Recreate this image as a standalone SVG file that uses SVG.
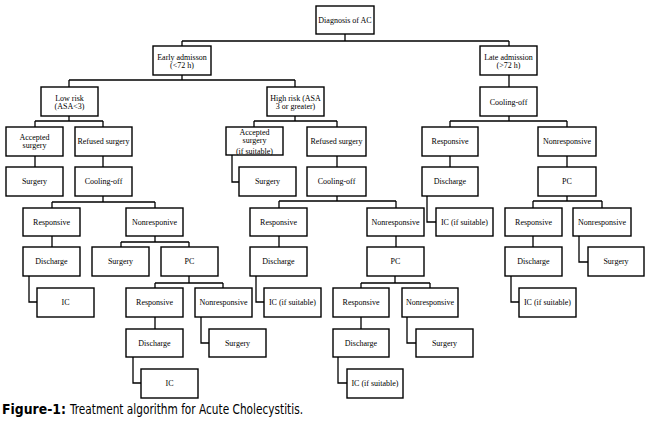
<svg xmlns="http://www.w3.org/2000/svg" width="650" height="427" viewBox="0 0 650 427">
<style>
.b{fill:#fff;stroke:#000;stroke-width:1.4}
.t{font-family:"Liberation Serif","Times New Roman",serif;font-size:8px;text-anchor:middle;fill:#000}
.c{fill:none;stroke:#000;stroke-width:1.3}
.cap{font-family:"Liberation Sans Narrow","DejaVu Sans Condensed","Liberation Sans",sans-serif;font-size:14px;fill:#000}
</style>
<rect width="650" height="427" fill="#fff"/>
<g id="connectors" class="c">
<path d="M345,34V41M182,41H509M182,41V46M509,41V46"/>
<path d="M182,75V80M69,80H295M69,80V87M295,80V87"/>
<path d="M509,75V87"/>
<path d="M509,116V121M450,121H567M450,121V127M567,121V127"/>
<path d="M69,116V121M35,121H103M35,121V127M103,121V127"/>
<path d="M295,116V121M254,121H337M254,121V127M337,121V127"/>
<path d="M35,156V167M103,156V167M232,155V182H239M337,156V167M450,156V167M567,156V167"/>
<path d="M103,196V202M52,202H155M52,202V208M155,202V208"/>
<path d="M337,196V201M279,201H396M279,201V208M396,201V208"/>
<path d="M427,196V222H436"/>
<path d="M567,196V201M533,201H602M533,201V208M602,201V208"/>
<path d="M52,236V247M279,236V247M396,236V247M533,236V247M579,236V262H588"/>
<path d="M155,236V242M121,242H189M121,242V247M189,242V247"/>
<path d="M29,276V302H37M256,276V302H264M511,276V302H519"/>
<path d="M189,276V283M155,283H223M155,283V288M223,283V288"/>
<path d="M395,276V283M361,283H430M361,283V288M430,283V288"/>
<path d="M155,317V329M201,317V343H209M361,317V329M407,317V343H416"/>
<path d="M133,357V383H141M338,357V383H347"/>
</g>
<g id="n_diag"><rect class="b" x="316" y="6" width="58" height="28"/><text class="t" x="345" y="23">Diagnosis of AC</text></g>
<g id="n_early"><rect class="b" x="153" y="46" width="58" height="29"/><text class="t" x="182" y="59.5">Early admisson</text><text class="t" x="182" y="67.5">(&lt;72 h)</text></g>
<g id="n_late"><rect class="b" x="480" y="46" width="57" height="29"/><text class="t" x="508.5" y="59.5">Late admission</text><text class="t" x="508.5" y="67.5">(&gt;72 h)</text></g>
<g id="n_low"><rect class="b" x="41" y="87" width="57" height="29"/><text class="t" x="69.5" y="100.5">Low risk</text><text class="t" x="69.5" y="108.5">(ASA&lt;3)</text></g>
<g id="n_high"><rect class="b" x="267" y="87" width="57" height="29"/><text class="t" x="295.5" y="100.5">High risk (ASA</text><text class="t" x="295.5" y="108.5">3 or greater)</text></g>
<g id="n_cool_late"><rect class="b" x="480" y="87" width="57" height="29"/><text class="t" x="508.5" y="104.5">Cooling-off</text></g>
<g id="n_acc_low"><rect class="b" x="6" y="127" width="57" height="29"/><text class="t" x="34.5" y="140">Accepted</text><text class="t" x="34.5" y="148">surgery</text></g>
<g id="n_ref_low"><rect class="b" x="75" y="127" width="57" height="29"/><text class="t" x="103.5" y="144">Refused surgery</text></g>
<g id="n_acc_high"><rect class="b" x="226" y="127" width="57" height="28"/><text class="t" x="254.5" y="134.5">Accepted</text><text class="t" x="254.5" y="142.5">surgery</text><text class="t" x="254.5" y="153.5">(if suitable)</text></g>
<g id="n_ref_high"><rect class="b" x="307" y="127" width="59" height="29"/><text class="t" x="336.5" y="144">Refused surgery</text></g>
<g id="n_resp_late"><rect class="b" x="422" y="127" width="56" height="29"/><text class="t" x="450" y="144">Responsive</text></g>
<g id="n_nonresp_late"><rect class="b" x="538" y="127" width="58" height="29"/><text class="t" x="567" y="144">Nonresponsive</text></g>
<g id="n_surg_low"><rect class="b" x="6" y="167" width="57" height="29"/><text class="t" x="34.5" y="184">Surgery</text></g>
<g id="n_cool_low"><rect class="b" x="75" y="167" width="57" height="29"/><text class="t" x="103.5" y="184">Cooling-off</text></g>
<g id="n_surg_high"><rect class="b" x="239" y="167" width="57" height="29"/><text class="t" x="267.5" y="184">Surgery</text></g>
<g id="n_cool_high"><rect class="b" x="307" y="167" width="59" height="29"/><text class="t" x="336.5" y="184">Cooling-off</text></g>
<g id="n_dis_late"><rect class="b" x="422" y="167" width="56" height="29"/><text class="t" x="450" y="184">Discharge</text></g>
<g id="n_pc_late"><rect class="b" x="538" y="167" width="58" height="29"/><text class="t" x="567" y="184">PC</text></g>
<g id="n_resp_low"><rect class="b" x="23" y="208" width="57" height="28"/><text class="t" x="51.5" y="225">Responsive</text></g>
<g id="n_nonresp_low"><rect class="b" x="126" y="208" width="57" height="28"/><text class="t" x="154.5" y="225">Nonresponive</text></g>
<g id="n_resp_high"><rect class="b" x="250" y="208" width="57" height="28"/><text class="t" x="278.5" y="225">Responsive</text></g>
<g id="n_nonresp_high"><rect class="b" x="367" y="208" width="57" height="28"/><text class="t" x="395.5" y="225">Nonresponsive</text></g>
<g id="n_ic_late"><rect class="b" x="436" y="208" width="57" height="28"/><text class="t" x="464.5" y="225">IC (if suitable)</text></g>
<g id="n_resp_late2"><rect class="b" x="505" y="208" width="57" height="28"/><text class="t" x="533.5" y="225">Responsive</text></g>
<g id="n_nonresp_late2"><rect class="b" x="573" y="208" width="58" height="28"/><text class="t" x="602" y="225">Nonresponsive</text></g>
<g id="n_dis_low"><rect class="b" x="23" y="247" width="57" height="29"/><text class="t" x="51.5" y="264">Discharge</text></g>
<g id="n_surg_low2"><rect class="b" x="92" y="247" width="57" height="29"/><text class="t" x="120.5" y="264">Surgery</text></g>
<g id="n_pc_low"><rect class="b" x="161" y="247" width="57" height="29"/><text class="t" x="189.5" y="264">PC</text></g>
<g id="n_dis_high"><rect class="b" x="250" y="247" width="57" height="29"/><text class="t" x="278.5" y="264">Discharge</text></g>
<g id="n_pc_high"><rect class="b" x="367" y="247" width="57" height="29"/><text class="t" x="395.5" y="264">PC</text></g>
<g id="n_dis_late2"><rect class="b" x="505" y="247" width="57" height="29"/><text class="t" x="533.5" y="264">Discharge</text></g>
<g id="n_surg_late2"><rect class="b" x="588" y="247" width="56" height="29"/><text class="t" x="616" y="264">Surgery</text></g>
<g id="n_ic_low"><rect class="b" x="37" y="288" width="57" height="29"/><text class="t" x="65.5" y="305">IC</text></g>
<g id="n_resp_low2"><rect class="b" x="126" y="288" width="57" height="29"/><text class="t" x="154.5" y="305">Responsive</text></g>
<g id="n_nonresp_low2"><rect class="b" x="195" y="288" width="57" height="29"/><text class="t" x="223.5" y="305">Nonresponsive</text></g>
<g id="n_ic_high"><rect class="b" x="264" y="288" width="57" height="29"/><text class="t" x="292.5" y="305">IC (if suitable)</text></g>
<g id="n_resp_high2"><rect class="b" x="333" y="288" width="56" height="29"/><text class="t" x="361" y="305">Responsive</text></g>
<g id="n_nonresp_high2"><rect class="b" x="402" y="288" width="56" height="29"/><text class="t" x="430" y="305">Nonresponsive</text></g>
<g id="n_ic_late2"><rect class="b" x="519" y="288" width="57" height="29"/><text class="t" x="547.5" y="305">IC (if suitable)</text></g>
<g id="n_dis_low2"><rect class="b" x="126" y="329" width="57" height="28"/><text class="t" x="154.5" y="346">Discharge</text></g>
<g id="n_surg_low3"><rect class="b" x="209" y="329" width="57" height="28"/><text class="t" x="237.5" y="346">Surgery</text></g>
<g id="n_dis_high2"><rect class="b" x="333" y="329" width="56" height="28"/><text class="t" x="361" y="346">Discharge</text></g>
<g id="n_surg_high3"><rect class="b" x="416" y="329" width="57" height="28"/><text class="t" x="444.5" y="346">Surgery</text></g>
<g id="n_ic_low2"><rect class="b" x="141" y="369" width="57" height="29"/><text class="t" x="169.5" y="386">IC</text></g>
<g id="n_ic_high2"><rect class="b" x="347" y="369" width="56" height="29"/><text class="t" x="375" y="386">IC (if suitable)</text></g>
<g id="caption">
<text class="cap" x="2" y="414" font-weight="bold" textLength="64" lengthAdjust="spacingAndGlyphs">Figure-1:</text>
<text class="cap" x="70" y="414" textLength="233" lengthAdjust="spacingAndGlyphs">Treatment algorithm for Acute Cholecystitis.</text>
</g>
</svg>
